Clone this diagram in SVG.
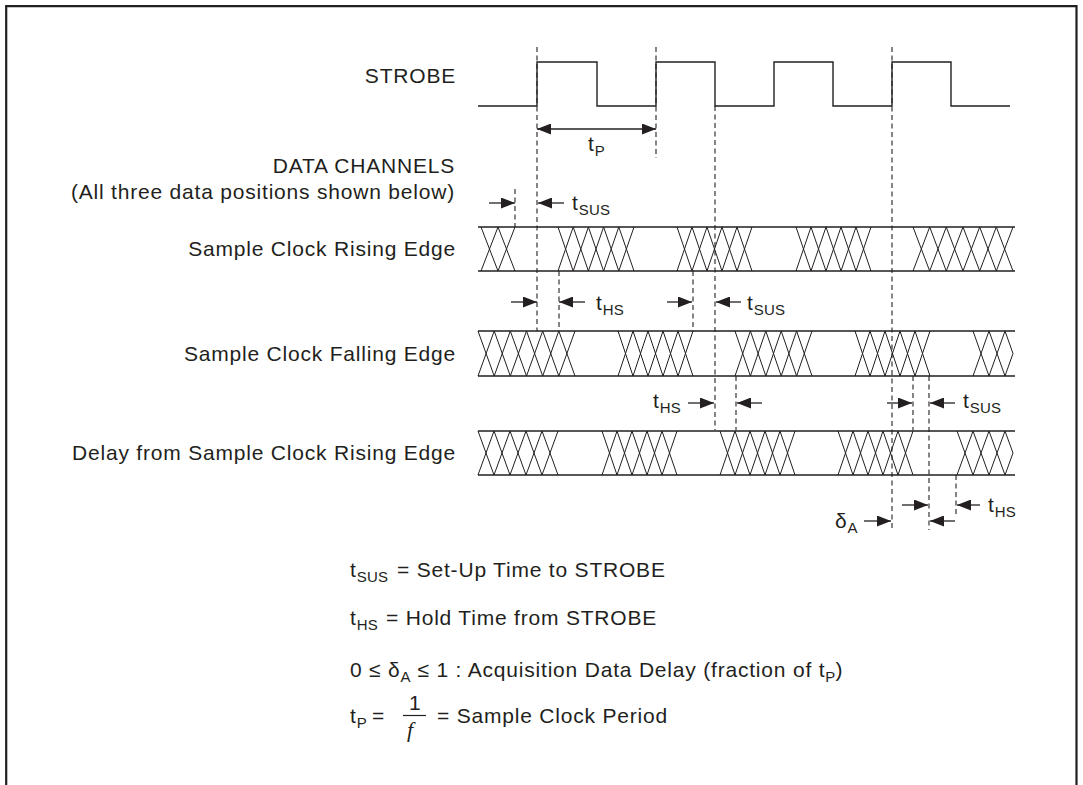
<svg xmlns="http://www.w3.org/2000/svg" width="1083" height="785" viewBox="0 0 1083 785">
<style>
  .bg{fill:#ffffff}
  .frame{fill:none;stroke:#231f20;stroke-width:2.2}
  .sig{fill:none;stroke:#231f20;stroke-width:1.4}
  .rail{fill:none;stroke:#231f20;stroke-width:1.6}
  .xx{fill:none;stroke:#231f20;stroke-width:1}
  .dash{fill:none;stroke:#231f20;stroke-width:1.1;stroke-dasharray:5 3.5}
  .arr{fill:none;stroke:#231f20;stroke-width:1.3;marker-end:url(#ah)}
  .lbl{font-family:"Liberation Sans",Arial,Helvetica,sans-serif;font-size:21px;fill:#231f20;letter-spacing:0.8px}
  .end{text-anchor:end}
  .sub{font-size:15px;letter-spacing:0.3px}
  .ital{font-family:"Liberation Serif","Times New Roman",serif;font-style:italic;font-size:22px;fill:#231f20}
</style>
<defs>
  <marker id="ah" markerUnits="userSpaceOnUse" markerWidth="14" markerHeight="11" refX="14" refY="5.5" orient="auto-start-reverse">
    <path d="M0,0 L14,5.5 L0,11 z" fill="#231f20"/>
  </marker>
</defs>
<rect class="bg" x="0" y="0" width="1083" height="785"/>
<path class="frame" d="M6.2,785 V6.2 H1076.5 V785"/>

<g id="strobe">
  <text class="lbl end" x="456" y="83">STROBE</text>
  <path class="sig" d="M478,106 H537 V62 H597 V106 H656 V62 H715 V106 H774 V62 H833 V106 H892 V62 H951 V106 H1010"/>
</g>

<g id="data-header">
  <text class="lbl end" x="455" y="173">DATA CHANNELS</text>
  <text class="lbl end" x="455" y="199">(All three data positions shown below)</text>
</g>

<g id="row-rising">
  <text class="lbl end" x="456" y="256">Sample Clock Rising Edge</text>
  <path class="rail" d="M478,227 H1015 M478,271 H1015"/>
  <path class="xx" d="M481,227L498,271L515,227M481,271L498,227L515,271
  M558,227L573.2,271L588.4,227L603.6,271L618.8,227L634,271M558,271L573.2,227L588.4,271L603.6,227L618.8,271L634,227
  M677,227L692,271L707,227L722,271L737,227L752,271M677,271L692,227L707,271L722,227L737,271L752,227
  M796,227L811,271L826,227L841,271L856,227L871,271M796,271L811,227L826,271L841,227L856,271L871,227
  M913,227L929.7,271L946.3,227L963,271L979.7,227L996.3,271L1013,227M913,271L929.7,227L946.3,271L963,227L979.7,271L996.3,227L1013,271"/>
</g>

<g id="row-falling">
  <text class="lbl end" x="456" y="361">Sample Clock Falling Edge</text>
  <path class="rail" d="M478,331 H1015 M478,376 H1015"/>
  <path class="xx" d="M478,331L494.2,376L510.3,331L526.5,376L542.7,331L558.8,376L575,331M478,376L494.2,331L510.3,376L526.5,331L542.7,376L558.8,331L575,376
  M618,331L633,376L648,331L663,376L678,331L693,376M618,376L633,331L648,376L663,331L678,376L693,331
  M735,331L750.4,376L765.8,331L781.2,376L796.6,331L812,376M735,376L750.4,331L765.8,376L781.2,331L796.6,376L812,331
  M855,331L870,376L885,331L900,376L915,331L930,376M855,376L870,331L885,376L900,331L915,376L930,331
  M973,331L989,376L1005,331L1013,353.5M973,376L989,331L1005,376L1013,353.5"/>
</g>

<g id="row-delay">
  <text class="lbl end" x="456" y="460">Delay from Sample Clock Rising Edge</text>
  <path class="rail" d="M478,431 H1015 M478,475 H1015"/>
  <path class="xx" d="M478,431L494,475L510,431L526,475L542,431L558,475M478,475L494,431L510,475L526,431L542,475L558,431
  M602,431L617,475L632,431L647,475L662,431L677,475M602,475L617,431L632,475L647,431L662,475L677,431
  M720,431L735,475L750,431L765,475L780,431L795,475M720,475L735,431L750,475L765,431L780,475L795,431
  M838,431L853,475L868,431L883,475L898,431L913,475M838,475L853,431L868,475L883,431L898,475L913,431
  M957,431L973,475L989,431L1005,475L1013,453M957,475L973,431L989,475L1005,431L1013,453"/>
</g>

<g id="connectors">
  <path class="dash" d="M537,47V331 M656,47V158 M715,106V430 M892,47V530 M515,189V227 M559,271V331 M693,271V331 M736,376V430 M913,376V430 M929,376V530 M956,475V517"/>
  <line class="arr" x1="537" y1="129" x2="656" y2="129" style="marker-start:url(#ah)"/>
  <line class="arr" x1="489" y1="203" x2="515" y2="203"/>
  <line class="arr" x1="564" y1="203" x2="538" y2="203"/>
  <line class="arr" x1="511" y1="302" x2="537" y2="302"/>
  <line class="arr" x1="585" y1="302" x2="559" y2="302"/>
  <line class="arr" x1="667" y1="302" x2="692" y2="302"/>
  <line class="arr" x1="741" y1="302" x2="716" y2="302"/>
  <line class="arr" x1="688" y1="403" x2="714" y2="403"/>
  <line class="arr" x1="762" y1="403" x2="737" y2="403"/>
  <line class="arr" x1="887" y1="403" x2="912" y2="403"/>
  <line class="arr" x1="955" y1="403" x2="930" y2="403"/>
  <line class="arr" x1="902" y1="505" x2="928" y2="505"/>
  <line class="arr" x1="980" y1="505" x2="957" y2="505"/>
  <line class="arr" x1="864" y1="521" x2="891" y2="521"/>
  <line class="arr" x1="955" y1="521" x2="930" y2="521"/>
</g>

<g id="timing-labels">
  <text class="lbl" x="588" y="151">t<tspan class="sub" dy="5">P</tspan></text>
  <text class="lbl" x="572" y="210">t<tspan class="sub" dy="5">SUS</tspan></text>
  <text class="lbl" x="596" y="310">t<tspan class="sub" dy="5">HS</tspan></text>
  <text class="lbl" x="747" y="310">t<tspan class="sub" dy="5">SUS</tspan></text>
  <text class="lbl" x="653" y="408">t<tspan class="sub" dy="5">HS</tspan></text>
  <text class="lbl" x="963" y="408">t<tspan class="sub" dy="5">SUS</tspan></text>
  <text class="lbl" x="988" y="512">t<tspan class="sub" dy="5">HS</tspan></text>
  <text class="lbl" x="835" y="528">δ<tspan class="sub" dy="5">A</tspan></text>
</g>

<g id="legend">
  <text class="lbl" x="350" y="577">t<tspan class="sub" dy="5">SUS</tspan><tspan x="397" dy="-5">= Set-Up Time to STROBE</tspan></text>
  <text class="lbl" x="350" y="625">t<tspan class="sub" dy="5">HS</tspan><tspan x="386" dy="-5">= Hold Time from STROBE</tspan></text>
  <text class="lbl" x="350" y="677">0 ≤ δ<tspan class="sub" dy="5">A</tspan><tspan dy="-5"> ≤ 1 : Acquisition Data Delay (fraction of t</tspan><tspan class="sub" dy="5">P</tspan><tspan dy="-5">)</tspan></text>
  <text class="lbl" x="350" y="723">t<tspan class="sub" dy="5">P</tspan><tspan x="372" dy="-5">=</tspan></text>
  <text class="lbl" x="409" y="710">1</text>
  <line x1="403" y1="715.5" x2="426" y2="715.5" stroke="#231f20" stroke-width="1.2"/>
  <text class="ital" x="407" y="737">f</text>
  <text class="lbl" x="437" y="723">= Sample Clock Period</text>
</g>
</svg>
